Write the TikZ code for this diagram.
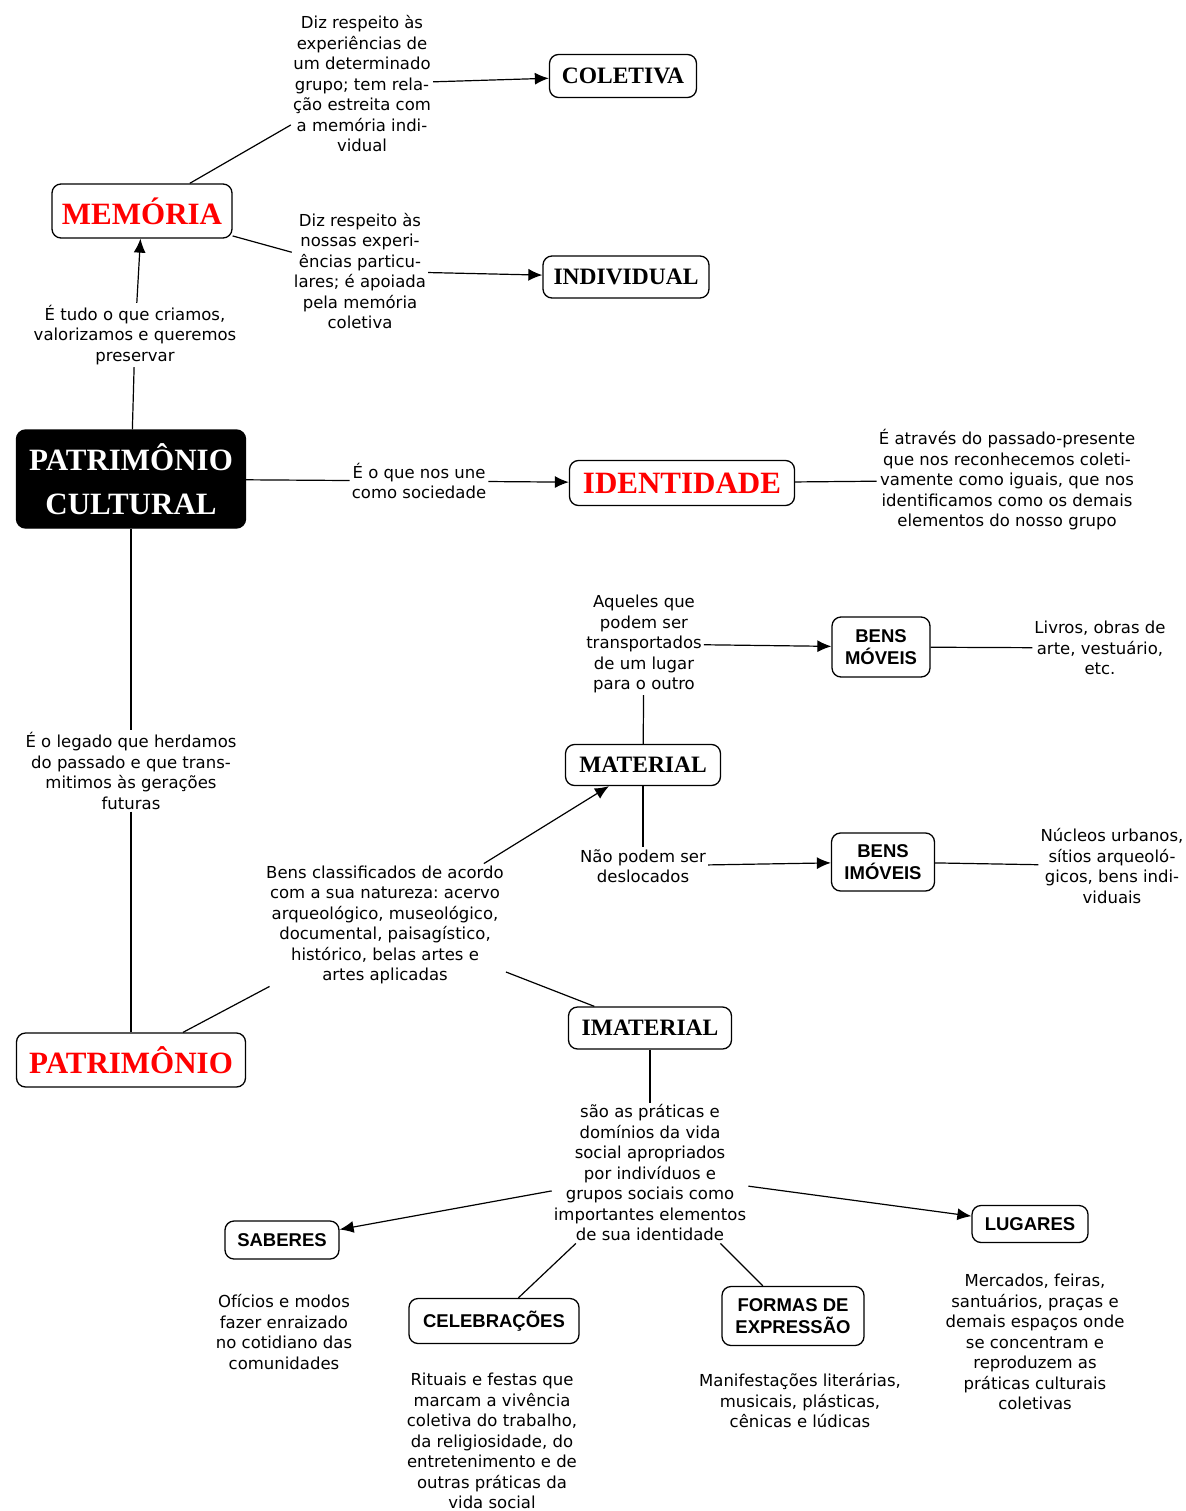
\documentclass[tikz,border=0pt]{standalone}
\usepackage{fontspec}
\setmainfont{DejaVu Sans}
\newfontfamily\decor{Liberation Serif}
\newfontfamily\caixa{Liberation Sans}
\usetikzlibrary{arrows.meta}
\frenchspacing

\begin{document}
\begin{tikzpicture}[x=1pt,y=-1pt]
	\tikzstyle{texto} = [align=center, inner sep=2pt, font=\fontsize{16.5}{20.5}\selectfont]
	\tikzstyle{conceito} = [draw, rounded corners=9pt, line width=1.3pt, fill=white, inner sep=0pt, align=center]
	\tikzstyle{grande} = [conceito, text=red, font=\decor\bfseries\fontsize{31}{44}\selectfont]
	\tikzstyle{medio} = [conceito, font=\decor\bfseries\fontsize{23.5}{28}\selectfont]
	\tikzstyle{simples} = [conceito, font=\caixa\bfseries\fontsize{18.5}{22.5}\selectfont]
	\tikzset{seta/.style = {-{Latex[length=14pt,width=12pt]}, line width=1.2pt}}
	\tikzset{linha/.style = {-, line width=1.2pt}}
	
	\useasboundingbox (0,0) rectangle (1185,1511);
	
	% conceitos
	\node[grande, minimum width=180pt, minimum height=54pt](mem) at (142,211) {MEMÓRIA};
	\node[medio, minimum width=147pt, minimum height=43pt](col) at (623,76) {COLETIVA};
	\node[medio, minimum width=166pt, minimum height=42pt](ind) at (626,277) {INDIVIDUAL};
	\node[grande, fill=black, text=white, minimum width=229pt, minimum height=98pt](pc) at (131,479) {PATRIMÔNIO\\CULTURAL};
	\node[grande, minimum width=225pt, minimum height=45pt](ident) at (682,483) {IDENTIDADE};
	\node[grande, minimum width=229pt, minimum height=54pt](pat) at (131,1060) {PATRIMÔNIO};
	\node[medio, minimum width=155pt, minimum height=41pt](mat) at (643,765) {MATERIAL};
	\node[medio, minimum width=163pt, minimum height=42pt](imat) at (650,1028) {IMATERIAL};
	\node[simples, minimum width=98pt, minimum height=60pt](bmov) at (881,647) {BENS\\MÓVEIS};
	\node[simples, minimum width=103pt, minimum height=58pt](bimov) at (883,862) {BENS\\IMÓVEIS};
	\node[simples, minimum width=114pt, minimum height=38pt](sab) at (282,1240) {SABERES};
	\node[simples, minimum width=116pt, minimum height=37pt](lug) at (1030,1224) {LUGARES};
	\node[simples, minimum width=170pt, minimum height=45pt](cel) at (494,1321) {CELEBRAÇÕES};
	\node[simples, minimum width=142pt, minimum height=59pt](form) at (793,1316) {FORMAS DE\\EXPRESSÃO};
	
	% textos de ligacao
	\node[texto](txtcol) at (362,84) {Diz respeito às\\experiências de\\um determinado\\grupo; tem rela-\\ção estreita com\\a memória indi-\\vidual};
	\node[texto](txtind) at (360,271) {Diz respeito às\\nossas experi-\\ências particu-\\lares; é apoiada\\pela memória\\coletiva};
	\node[texto](txttudo) at (135,335) {É tudo o que criamos,\\valorizamos e queremos\\preservar};
	\node[texto](txtune) at (419,481) {É o que nos une\\como sociedade};
	\node[texto](txtatr) at (1007,480) {É através do passado-presente\\que nos reconhecemos coleti-\\vamente como iguais, que nos\\identificamos como os demais\\elementos do nosso grupo};
	\node[texto](txtleg) at (131,771) {É o legado que herdamos\\do passado e que trans-\\mitimos às gerações\\futuras};
	\node[texto](txtbens) at (385,925) {Bens classificados de acordo\\com a sua natureza: acervo\\arqueológico, museológico,\\documental, paisagístico,\\histórico, belas artes e\\artes aplicadas};
	\node[texto](txtaque) at (644,644) {Aqueles que\\podem ser\\transportados\\de um lugar\\para o outro};
	\node[texto](txtliv) at (1100,648) {Livros, obras de\\arte, vestuário,\\etc.};
	\node[texto](txtnao) at (643,866) {Não podem ser\\deslocados};
	\node[texto](txtnuc) at (1112,866) {Núcleos urbanos,\\sítios arqueoló-\\gicos, bens indi-\\viduais};
	\node[texto](txtsao) at (650,1173) {são as práticas e\\domínios da vida\\social apropriados\\por indivíduos e\\grupos sociais como\\importantes elementos\\de sua identidade};
	\node[texto](txtofi) at (284,1332) {Ofícios e modos\\fazer enraizado\\no cotidiano das\\comunidades};
	\node[texto](txtrit) at (492,1441) {Rituais e festas que\\marcam a vivência\\coletiva do trabalho,\\da religiosidade, do\\entretenimento e de\\outras práticas da\\vida social};
	\node[texto](txtman) at (800,1401) {Manifestações literárias,\\musicais, plásticas,\\cênicas e lúdicas};
	\node[texto](txtmer) at (1035,1342) {Mercados, feiras,\\santuários, praças e\\demais espaços onde\\se concentram e\\reproduzem as\\práticas culturais\\coletivas};
	
	% ligacoes
	\draw[linha](mem) to (txtcol);
	\draw[seta](txtcol) to (col);
	\draw[linha](mem) to (txtind);
	\draw[seta](txtind) to (ind);
	\draw[seta](txttudo) to (mem);
	\draw[linha](pc) to (txttudo);
	\draw[linha](pc) to (txtune);
	\draw[seta](txtune) to (ident);
	\draw[linha](ident) to (txtatr);
	\draw[linha](pc) to (txtleg);
	\draw[linha](txtleg) to (pat);
	\draw[linha](pat) to (txtbens);
	\draw[seta](txtbens) to (mat);
	\draw[linha](txtbens) to (imat);
	\draw[linha](mat) to (txtaque);
	\draw[seta](txtaque) to (bmov);
	\draw[linha](bmov) to (txtliv);
	\draw[linha](mat) to (txtnao);
	\draw[seta](txtnao) to (bimov);
	\draw[linha](bimov) to (txtnuc);
	\draw[linha](imat) to (txtsao);
	\draw[seta](txtsao) to (sab);
	\draw[seta](txtsao) to (lug);
	\draw[linha](txtsao) to (cel);
	\draw[linha](txtsao) to (form);
	
\end{tikzpicture}
\end{document}
